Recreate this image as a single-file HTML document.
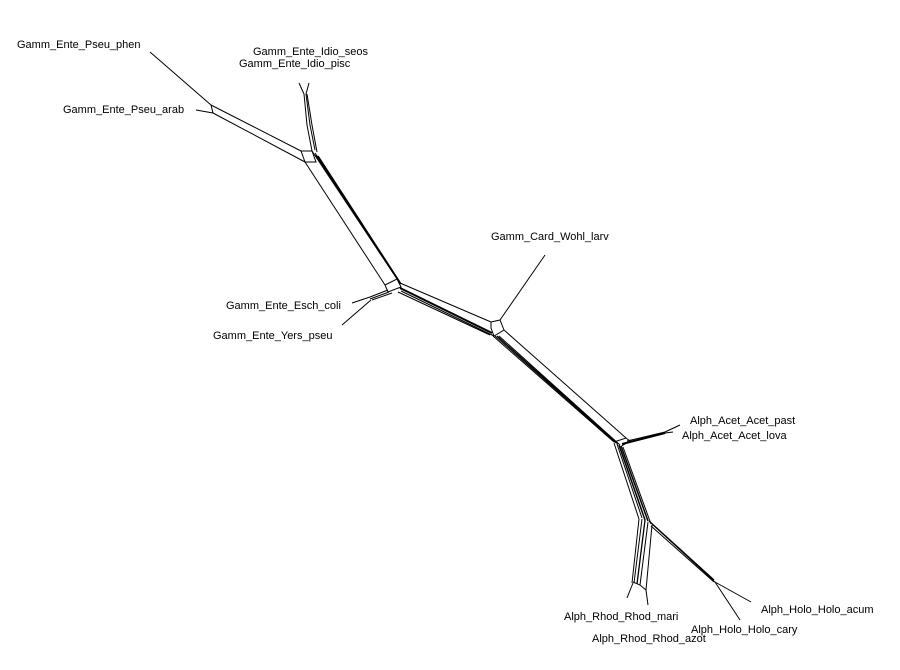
<!DOCTYPE html>
<html><head><meta charset="utf-8"><style>
html,body{margin:0;padding:0;background:#fff;width:900px;height:670px;overflow:hidden}
svg{display:block}
text{font-family:"Liberation Sans",sans-serif;font-size:11px;fill:#000}
</style></head><body>
<svg width="900" height="670" viewBox="0 0 900 670" xmlns="http://www.w3.org/2000/svg">
<g stroke="#000" stroke-width="1" fill="none">
<!-- Pseu leaves -->
<line x1="150" y1="52" x2="211" y2="105"/>
<line x1="196" y1="110" x2="213" y2="113"/>
<line x1="211" y1="105" x2="213" y2="113"/>
<line x1="211" y1="105" x2="301" y2="151"/>
<line x1="213" y1="113" x2="305" y2="162"/>
<!-- box -->
<polyline points="301,151 312,151 316,162 305,162 301,151"/>
<!-- Idio -->
<line x1="299" y1="83" x2="304" y2="94"/>
<line x1="309" y1="83" x2="306" y2="94"/>
<polyline points="304,94 307,125 312,151"/>
<polyline points="306,94 310,125 315,150"/>
<polyline points="307,94 312,125 317,152"/>
<!-- trunk to Esch node -->
<line x1="312" y1="151" x2="397" y2="279"/>
<line x1="315" y1="153" x2="399" y2="281"/>
<line x1="316" y1="155" x2="400" y2="283" stroke-width="1.5"/>
<line x1="318" y1="156" x2="401" y2="284" stroke-width="1.5"/>
<line x1="305" y1="162" x2="385" y2="285"/>
<!-- Esch box -->
<polyline points="385,285 397,279 401,287 388,292 385,285"/>
<line x1="370" y1="297" x2="388" y2="290"/>
<line x1="370" y1="299" x2="389" y2="292"/>
<line x1="372" y1="300" x2="392" y2="293"/>
<line x1="352" y1="303" x2="370" y2="297"/>
<line x1="342" y1="325" x2="371" y2="300"/>
<!-- to Wohl -->
<line x1="400" y1="283" x2="491" y2="322"/>
<line x1="400" y1="288" x2="492" y2="333" stroke-width="2"/>
<line x1="401" y1="291" x2="494" y2="336" stroke-width="1"/>
<line x1="398" y1="292" x2="490" y2="335"/>
<polyline points="491,322 500,320 504,330 494,336 491,328 491,322"/>
<line x1="545" y1="255" x2="500" y2="320"/>
<!-- to Acet -->
<line x1="504" y1="330" x2="626" y2="438"/>
<line x1="493" y1="336" x2="614" y2="442"/>
<line x1="495" y1="336" x2="616" y2="443"/>
<line x1="497" y1="336" x2="618" y2="444" stroke-width="1.3"/>
<line x1="499" y1="336" x2="620" y2="445"/>
<polyline points="614,442 626,438 630,441 620,447"/>
<line x1="622" y1="444" x2="665" y2="433" stroke-width="2"/>
<line x1="627" y1="441" x2="665" y2="432"/>
<line x1="665" y1="432" x2="680" y2="425"/>
<line x1="665" y1="433" x2="673" y2="432"/>
<!-- down to split -->
<line x1="614" y1="443" x2="639" y2="519"/>
<line x1="617" y1="444" x2="642" y2="518"/>
<line x1="619" y1="445" x2="645" y2="520" stroke-width="1.5"/>
<line x1="621" y1="446" x2="648" y2="521" stroke-width="1.5"/>
<line x1="623" y1="447" x2="651" y2="524"/>
<!-- Rhod -->
<line x1="639" y1="519" x2="632" y2="583"/>
<line x1="642" y1="519" x2="634" y2="583"/>
<line x1="645" y1="520" x2="637" y2="584" stroke-width="1.3"/>
<line x1="648" y1="522" x2="640" y2="585"/>
<line x1="652" y1="525" x2="646" y2="590"/>
<line x1="633" y1="583" x2="627" y2="598"/>
<polyline points="633,582 640,585 646,590 648,605"/>
<!-- Holo -->
<line x1="649" y1="521" x2="714" y2="580" stroke-width="1.3"/>
<line x1="652" y1="524" x2="716" y2="583"/>
<line x1="651" y1="526" x2="714" y2="582"/>
<line x1="715" y1="582" x2="751" y2="602"/>
<line x1="715" y1="582" x2="740" y2="620"/>
</g>
<text x="17" y="48">Gamm_Ente_Pseu_phen</text>
<text x="63" y="113">Gamm_Ente_Pseu_arab</text>
<text x="253" y="55">Gamm_Ente_Idio_seos</text>
<text x="239" y="67">Gamm_Ente_Idio_pisc</text>
<text x="491" y="240">Gamm_Card_Wohl_larv</text>
<text x="226" y="309">Gamm_Ente_Esch_coli</text>
<text x="213" y="339">Gamm_Ente_Yers_pseu</text>
<text x="690" y="424">Alph_Acet_Acet_past</text>
<text x="682" y="439">Alph_Acet_Acet_lova</text>
<text x="564" y="620">Alph_Rhod_Rhod_mari</text>
<text x="592" y="642">Alph_Rhod_Rhod_azot</text>
<text x="691" y="633">Alph_Holo_Holo_cary</text>
<text x="761" y="613">Alph_Holo_Holo_acum</text>
</svg>
</body></html>
